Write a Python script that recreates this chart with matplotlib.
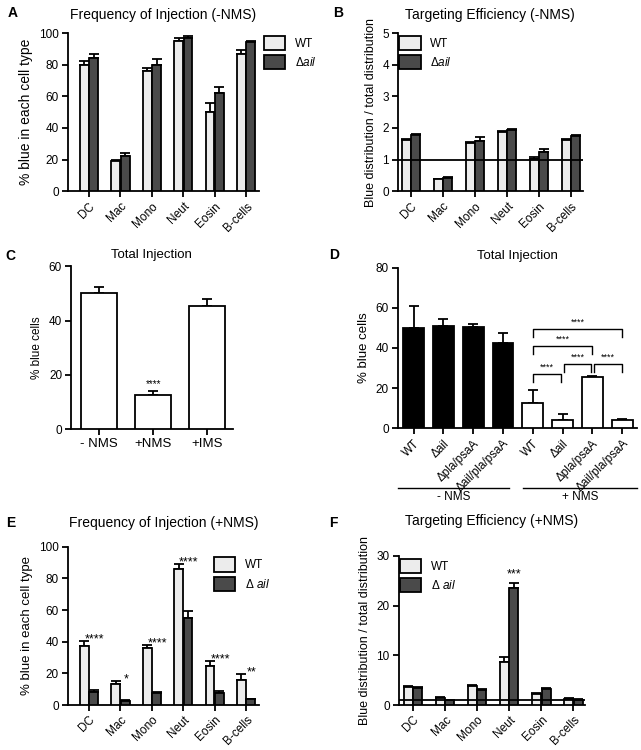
import numpy as np
import matplotlib
matplotlib.use('Agg')
import matplotlib.pyplot as plt

plt.rcParams['font.family'] = ['Liberation Sans', 'DejaVu Sans']
plt.rcParams['mathtext.fontset'] = 'custom'
plt.rcParams['mathtext.rm'] = 'Liberation Sans'
plt.rcParams['mathtext.it'] = 'Liberation Sans:italic'
plt.rcParams['font.size'] = 8.5

# ---- data ----
cells = ['DC', 'Mac', 'Mono', 'Neut', 'Eosin', 'B-cells']

a_wt = [80, 19, 76, 95, 50, 87]
a_wt_err = [2, 1, 2, 2, 5.5, 2]
a_ail = [84, 22, 80, 97, 62, 94]
a_ail_err = [2.5, 2, 3.5, 1, 4, 1]

b_wt = [1.62, 0.38, 1.52, 1.88, 1.02, 1.63]
b_wt_err = [0.03, 0.02, 0.03, 0.02, 0.07, 0.03]
b_ail = [1.77, 0.42, 1.60, 1.92, 1.23, 1.74]
b_ail_err = [0.05, 0.03, 0.10, 0.04, 0.10, 0.04]

c_groups = ['- NMS', '+NMS', '+IMS']
c_vals = [50, 12.5, 45.5]
c_err = [2.3, 1.5, 2.5]

d_strains = ['WT', 'Δail', 'Δpla/psaA', 'Δail/pla/psaA']
d_minus = [50, 51, 50.7, 42.5]
d_minus_err = [11, 3.3, 1.2, 5]
d_plus = [12.5, 4, 25.3, 4]
d_plus_err = [6.5, 3, 0.5, 0.5]
# brackets: (from, to, height) among +NMS bars
d_brackets = [(0, 1, 27), (1, 2, 32), (2, 3, 32), (0, 2, 41), (0, 3, 49.5)]

e_wt = [37.5, 13.5, 36, 86, 24.5, 16]
e_wt_err = [3, 1.5, 2, 3, 3.5, 3.5]
e_ail = [8.5, 2.5, 7.5, 55, 7.5, 3.5]
e_ail_err = [0.7, 0.5, 0.7, 4.5, 1.5, 0.5]
e_stars = ['****', '*', '****', '****', '****', '**']

f_wt = [3.7, 1.5, 3.8, 8.7, 2.3, 1.3]
f_wt_err = [0.2, 0.2, 0.3, 0.9, 0.2, 0.1]
f_ail = [3.5, 1.0, 3.1, 23.5, 3.2, 1.1]
f_ail_err = [0.2, 0.1, 0.2, 1.0, 0.3, 0.1]

wt_col = '#ececec'
ail_col = '#4a4a4a'
lw = 1.3

fig = plt.figure(figsize=(6.41, 7.5), dpi=100)


def style(ax):
    for s in ['top', 'right']:
        ax.spines[s].set_visible(False)
    for s in ['left', 'bottom']:
        ax.spines[s].set_linewidth(lw)
    ax.tick_params(width=lw, length=4, labelsize=8.5, pad=2.5)


def errs(ax, x, y, e):
    ax.errorbar(x, y, yerr=[np.zeros(len(e)), e], fmt='none', ecolor='black',
                elinewidth=lw, capsize=3.5, capthick=lw)


def paired(ax, wt, wt_e, ail, ail_e):
    x = np.arange(len(cells))
    w = 0.28
    b1 = ax.bar(x - 0.15, wt, w, color=wt_col, edgecolor='black', linewidth=lw, zorder=3)
    b2 = ax.bar(x + 0.15, ail, w, color=ail_col, edgecolor='black', linewidth=lw, zorder=3)
    errs(ax, x - 0.15, wt, wt_e)
    errs(ax, x + 0.15, ail, ail_e)
    ax.set_xticks(x)
    ax.set_xticklabels(cells, rotation=45, ha='right', rotation_mode='anchor')
    style(ax)
    return b1, b2


def legend(ax, h, labels, anchor):
    ax.legend(h, labels, loc='upper left', bbox_to_anchor=anchor,
              frameon=False, handlelength=1.8, handleheight=1.5, labelspacing=0.4,
              handletextpad=0.8, fontsize=8.5)


# ---- A ----
axA = fig.add_axes([0.106, 0.745, 0.298, 0.211])
h = paired(axA, a_wt, a_wt_err, a_ail, a_ail_err)
axA.set_xlim(-0.67, 5.41)
axA.set_ylim(0, 100)
axA.set_yticks(np.arange(0, 101, 20))
axA.set_ylabel('% blue in each cell type', fontsize=10)
axA.set_title('Frequency of Injection (-NMS)', fontsize=10, pad=10)
legend(axA, h, ['WT', r'Δ$\it{ail}$'], (0.97, 1.05))

# ---- B ----
axB = fig.add_axes([0.621, 0.745, 0.288, 0.211])
h = paired(axB, b_wt, b_wt_err, b_ail, b_ail_err)
axB.axhline(1, color='black', lw=lw, zorder=4)
axB.set_xlim(-0.4, 5.37)
axB.set_ylim(0, 5)
axB.set_yticks(np.arange(0, 6, 1))
axB.set_ylabel('Blue distribution / total distribution', fontsize=9)
axB.set_title('Targeting Efficiency (-NMS)', fontsize=10, pad=10)
legend(axB, h, ['WT', r'Δ$\it{ail}$'], (-0.05, 1.05))

# ---- C ----
axC = fig.add_axes([0.111, 0.428, 0.252, 0.217])
xc = np.arange(len(c_groups))
axC.bar(xc, c_vals, 0.67, color='white', edgecolor='black', linewidth=lw, zorder=3)
errs(axC, xc, c_vals, c_err)
axC.text(xc[1], c_vals[1] + c_err[1] + 2.5, '****', ha='center', va='center', fontsize=7)
axC.set_xticks(xc)
axC.set_xticklabels(c_groups, fontsize=9.5)
axC.set_xlim(-0.52, 2.47)
axC.set_ylim(0, 60)
axC.set_yticks([0, 20, 40, 60])
axC.set_ylabel('% blue cells')
axC.set_title('Total Injection', fontsize=9.5, pad=6)
style(axC)
axC.tick_params(axis='x', labelsize=9.5)

# ---- D ----
axD = fig.add_axes([0.621, 0.429, 0.373, 0.214])
xm = np.arange(4)
xp = np.arange(4) + 4
axD.bar(xm, d_minus, 0.7, color='black', edgecolor='black', linewidth=lw, zorder=3)
axD.bar(xp, d_plus, 0.7, color='white', edgecolor='black', linewidth=lw, zorder=3)
errs(axD, xm, d_minus, d_minus_err)
errs(axD, xp, d_plus, d_plus_err)
for i, j, y in d_brackets:
    x1 = xp[i] + (0.05 if i > 0 and j - i == 1 else 0)
    x2 = xp[j] - (0.05 if j < 3 and j - i == 1 else 0)
    axD.plot([x1, x1, x2, x2], [y - 4, y, y, y - 4], color='black', lw=1.0)
    axD.text((x1 + x2) / 2, y + 1.0, '****', ha='center', va='bottom', fontsize=6.5)
axD.set_xticks(np.concatenate([xm, xp]))
axD.set_xticklabels(d_strains + d_strains, rotation=45, ha='right', rotation_mode='anchor')
axD.set_xlim(-0.52, 7.5)
axD.set_ylim(0, 80)
axD.set_yticks(np.arange(0, 81, 20))
axD.set_ylabel('% blue cells', fontsize=9.5)
axD.set_title('Total Injection', fontsize=9.5, pad=6)
style(axD)
for x1, x2, lab in [(0.0, 0.464, '- NMS'), (0.523, 1.0, '+ NMS')]:
    axD.plot([x1, x2], [-0.375, -0.375], transform=axD.transAxes, color='black',
             lw=1.0, clip_on=False)
    axD.text((x1 + x2) / 2, -0.43, lab, transform=axD.transAxes, ha='center',
             va='center', fontsize=8.5)

# ---- E ----
axE = fig.add_axes([0.106, 0.06, 0.298, 0.211])
h = paired(axE, e_wt, e_wt_err, e_ail, e_ail_err)
for i, s in enumerate(e_stars):
    axE.text(i + 0.17, e_wt[i] + e_wt_err[i] + 1.0, s, ha='center', va='center', fontsize=9)
axE.set_xlim(-0.67, 5.41)
axE.set_ylim(0, 100)
axE.set_yticks(np.arange(0, 101, 20))
axE.set_ylabel('% blue in each cell type', fontsize=9.5)
axE.set_title('Frequency of Injection (+NMS)', fontsize=10, pad=14)
legend(axE, h, ['WT', r'Δ $\it{ail}$'], (0.71, 1.0))

# ---- F ----
axF = fig.add_axes([0.622, 0.06, 0.291, 0.199])
h = paired(axF, f_wt, f_wt_err, f_ail, f_ail_err)
axF.axhline(1, color='black', lw=lw, zorder=4)
axF.text(3.15, f_ail[3] + f_ail_err[3] + 1.8, '***', ha='center', va='center', fontsize=9)
axF.set_xlim(-0.44, 5.37)
axF.set_ylim(0, 30)
axF.set_yticks([0, 10, 20, 30])
axF.set_ylabel('Blue distribution / total distribution', fontsize=9)
axF.set_title('Targeting Efficiency (+NMS)', fontsize=10, pad=22)
legend(axF, h, ['WT', r'Δ $\it{ail}$'], (-0.05, 1.05))

# panel letters
for lab, x, y in [('A', 0.012, 0.983), ('B', 0.52, 0.983), ('C', 0.008, 0.659),
                  ('D', 0.513, 0.66), ('E', 0.01, 0.303), ('F', 0.513, 0.303)]:
    fig.text(x, y, lab, fontsize=10, fontweight='bold', va='center')

fig.savefig('out.png', dpi=100)
